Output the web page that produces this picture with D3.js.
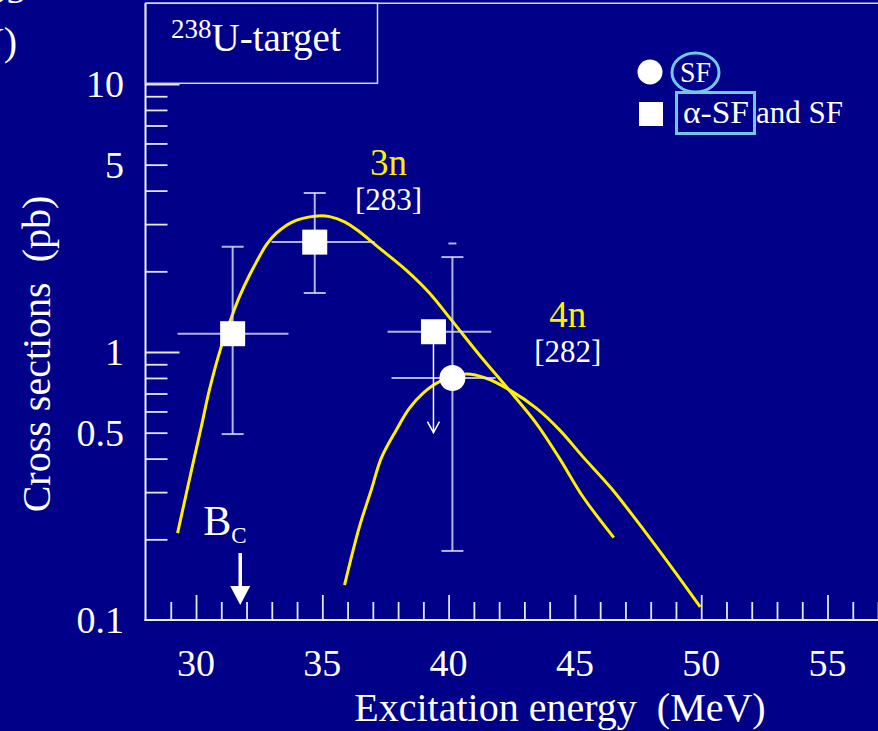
<!DOCTYPE html>
<html>
<head>
<meta charset="utf-8">
<script src="https://cdn.jsdelivr.net/npm/d3@7"></script>
<style>
  html, body { margin: 0; padding: 0; background: #000088; }
  svg { display: block; }
  svg text { font-family: "Liberation Serif", serif; }
</style>
</head>
<body>
<svg id="chart" width="878" height="731" font-family="Liberation Serif, serif"></svg>
<script>
// ---- data -------------------------------------------------------------
// alpha-SF and SF events (squares)
const squareE        = [31.45, 34.70, 39.40];
const squareSigma    = [1.17, 2.57, 1.19];
const squareELow     = [29.27, 32.99, 37.58];
const squareEHigh    = [33.66, 37.07, 41.69];
const squareSigLow   = [0.494, 1.66, null];
const squareSigHigh  = [2.47, 3.92, null];
const squareLimitTo  = [null, null, 0.50];   // upper-limit arrow

// SF event (circle)
const circleE        = [40.15];
const circleSigma    = [0.80];
const circleELow     = [37.74];
const circleEHigh    = [41.86];
const circleSigLow   = [0.181];
const circleSigHigh  = [2.26];
const circleOuterCap = [2.54];

// excitation functions
const curve3nE     = [29.27, 29.91, 30.21, 30.53, 31.00, 31.39, 31.72, 32.12, 32.51, 32.78,
                      33.17, 33.83, 34.69, 35.29, 35.88, 36.47, 37.26, 38.32, 39.24, 40.10,
                      41.22, 42.31, 43.47, 44.39, 45.31, 46.54];
const curve3nSigma = [0.211, 0.395, 0.526, 0.722, 1.047, 1.336, 1.608, 1.937, 2.27, 2.51,
                      2.77, 3.06, 3.21, 3.20, 3.06, 2.81, 2.44, 2.02, 1.66, 1.32,
                      0.975, 0.737, 0.542, 0.401, 0.289, 0.203];
const curve4nE     = [35.88, 36.47, 36.94, 37.33, 37.93, 38.45, 38.98, 39.64, 40.70, 41.49,
                      42.41, 43.47, 44.39, 45.31, 46.44, 47.82, 49.01, 49.96];
const curve4nSigma = [0.135, 0.223, 0.306, 0.401, 0.512, 0.617, 0.701, 0.775, 0.828, 0.798,
                      0.722, 0.617, 0.512, 0.407, 0.310, 0.211, 0.149, 0.112];

// Coulomb barrier
const barrierE = 31.75;

// axes
const xTickLabels = [30, 35, 40, 45, 50, 55];
const yTickLabels = [10, 5, 1, 0.5, 0.1];
const yMinorTicks = [0.2, 0.3, 0.4, 0.5, 0.6, 0.7, 0.8, 0.9, 2, 3, 4, 5, 6, 7, 8, 9];
const yMajorTicks = [1, 10];

// channel labels
const channelNames  = ["3n", "4n"];
const channelMasses = ["[283]", "[282]"];
const channelE      = [37.62, 44.72];
const channelSigma  = [4.58, 1.24];

// ---- layout -----------------------------------------------------------
const FONT = "Liberation Serif, serif";
const svg = d3.select("#chart");
const W = 878, H = 731;
const plotLeft = 145.5, plotBottom = 620, plotTop = 3.3;
const pxPerMeV = 25.26;

const x = d3.scaleLinear().domain([28, 58]).range([plotLeft, plotLeft + 30 * pxPerMeV]);
const y = d3.scaleLog().domain([0.1, 20]).range([plotBottom, plotTop]);

const BG = "#000088", YELLOW = "#fff000", CYAN = "#74c6e8", ERR = "rgba(225,225,245,0.8)";

svg.append("rect").attr("width", W).attr("height", H).attr("fill", BG);

function label(sel) {
  return sel.append("text").attr("font-family", FONT).attr("fill", "white");
}

// ---- axes -------------------------------------------------------------
const g = svg.append("g");

// x axis: minor ticks every MeV, major every 5 MeV
const xAxis = d3.axisBottom(x)
  .tickValues(d3.range(29, 58))
  .tickSizeInner(0).tickSizeOuter(0).tickFormat("");
const xg = g.append("g").attr("transform", `translate(0,${plotBottom})`).call(xAxis);
xg.select(".domain").remove();
xg.selectAll(".tick line")
  .attr("y2", d => d % 5 === 0 ? -25 : -18)
  .attr("stroke", "#e6e6f2").attr("stroke-width", 1.8);

g.append("line").attr("x1", plotLeft - 1).attr("x2", W).attr("y1", plotBottom).attr("y2", plotBottom)
  .attr("stroke", "#f0f0f8").attr("stroke-width", 2);

xTickLabels.forEach(d => label(g)
  .attr("x", x(d)).attr("y", 676)
  .attr("text-anchor", "middle").attr("font-size", 38)
  .text(d));

// y axis
const yAxis = d3.axisLeft(y).tickValues(yMinorTicks.concat(yMajorTicks))
  .tickSizeInner(0).tickSizeOuter(0).tickFormat("");
const yg = g.append("g").attr("transform", `translate(${plotLeft},0)`).call(yAxis);
yg.select(".domain").remove();
yg.selectAll(".tick line")
  .attr("x2", d => yMajorTicks.includes(d) ? 34 : 22)
  .attr("stroke", "#e6e6f2").attr("stroke-width", 1.8);

g.append("line").attr("x1", plotLeft).attr("x2", plotLeft).attr("y1", plotTop).attr("y2", plotBottom + 1)
  .attr("stroke", "#f0f0f8").attr("stroke-width", 2);
// frame top
g.append("line").attr("x1", plotLeft).attr("x2", W).attr("y1", plotTop).attr("y2", plotTop)
  .attr("stroke", "#d8d8ea").attr("stroke-width", 1.5);

yTickLabels.forEach(d => label(g)
  .attr("x", 124).attr("y", y(d))
  .attr("dy", "0.34em")
  .attr("text-anchor", "end").attr("font-size", 38)
  .text(d));

// axis titles
label(svg)
  .attr("x", 560).attr("y", 721)
  .attr("text-anchor", "middle").attr("font-size", 40)
  .attr("xml:space", "preserve")
  .text("Excitation energy  (MeV)");

label(svg)
  .attr("transform", "translate(50,354) rotate(-90)")
  .attr("text-anchor", "middle").attr("font-size", 40)
  .attr("xml:space", "preserve")
  .text("Cross sections  (pb)");

// fragments of neighbouring slide text at the top-left edge
label(svg).attr("x", 17).attr("y", 55).attr("text-anchor", "end")
  .attr("font-size", 40).text("(MeV)");
label(svg).attr("x", 26).attr("y", 3).attr("text-anchor", "end")
  .attr("font-size", 40).text("35");

// target label box
svg.append("rect").attr("x", plotLeft).attr("y", plotTop).attr("width", 232).attr("height", 80)
  .attr("fill", "none").attr("stroke", "#d8d8ea").attr("stroke-width", 1.5);
const tl = label(svg).attr("x", 171).attr("y", 51).attr("font-size", 39);
tl.append("tspan").attr("font-size", 27).attr("dy", -13).text("238");
tl.append("tspan").attr("dy", 13).text("U-target");

// ---- curves -----------------------------------------------------------
const line = d3.line().x(d => x(d[0])).y(d => y(d[1])).curve(d3.curveCatmullRom.alpha(0.5));
svg.append("path").datum(d3.zip(curve3nE, curve3nSigma)).attr("d", line)
  .attr("fill", "none").attr("stroke", YELLOW).attr("stroke-width", 3);
svg.append("path").datum(d3.zip(curve4nE, curve4nSigma)).attr("d", line)
  .attr("fill", "none").attr("stroke", YELLOW).attr("stroke-width", 3);

// ---- error bars and points -------------------------------------------
const eb = svg.append("g").attr("stroke", ERR).attr("stroke-width", 2).attr("fill", "none");
const cap = 11;

function errorBars(E, S, EL, EH, SL, SH) {
  E.forEach((e, i) => {
    eb.append("line").attr("x1", x(EL[i])).attr("x2", x(EH[i]))
      .attr("y1", y(S[i])).attr("y2", y(S[i]));
    if (SL[i] != null) {
      eb.append("line").attr("x1", x(e)).attr("x2", x(e))
        .attr("y1", y(SL[i])).attr("y2", y(SH[i]));
      [SL[i], SH[i]].forEach(v => eb.append("line")
        .attr("x1", x(e) - cap).attr("x2", x(e) + cap)
        .attr("y1", y(v)).attr("y2", y(v)));
    }
  });
}
errorBars(squareE, squareSigma, squareELow, squareEHigh, squareSigLow, squareSigHigh);
errorBars(circleE, circleSigma, circleELow, circleEHigh, circleSigLow, circleSigHigh);

circleOuterCap.forEach((v, i) => eb.append("line")
  .attr("x1", x(circleE[i]) - 4).attr("x2", x(circleE[i]) + 4)
  .attr("y1", y(v)).attr("y2", y(v)));

// upper-limit arrow
squareLimitTo.forEach((v, i) => {
  if (v == null) return;
  const cx = x(squareE[i]), ty = y(v);
  svg.append("line").attr("x1", cx).attr("x2", cx).attr("y1", y(squareSigma[i])).attr("y2", ty)
    .attr("stroke", "white").attr("stroke-width", 1.5);
  svg.append("path").attr("d", `M${cx - 6},${ty - 11} L${cx},${ty} L${cx + 6},${ty - 11}`)
    .attr("fill", "none").attr("stroke", "white").attr("stroke-width", 1.5);
});

const sq = 25;
svg.selectAll("rect.pt").data(d3.zip(squareE, squareSigma)).join("rect")
  .attr("class", "pt")
  .attr("x", d => x(d[0]) - sq / 2).attr("y", d => y(d[1]) - sq / 2)
  .attr("width", sq).attr("height", sq).attr("fill", "white");

svg.selectAll("circle.pt").data(d3.zip(circleE, circleSigma)).join("circle")
  .attr("class", "pt")
  .attr("cx", d => x(d[0])).attr("cy", d => y(d[1])).attr("r", 13).attr("fill", "white");

// ---- channel labels ---------------------------------------------------
channelNames.forEach((n, i) => {
  const cx = x(channelE[i]), cy = y(channelSigma[i]);
  label(svg).attr("x", cx).attr("y", cy).attr("text-anchor", "middle")
    .attr("fill", YELLOW).attr("font-size", 37).text(n);
  label(svg).attr("x", cx).attr("y", cy + 35).attr("text-anchor", "middle")
    .attr("font-size", 31).text(channelMasses[i]);
});

// ---- Coulomb barrier marker ------------------------------------------
const bx = x(barrierE);
const bl = label(svg).attr("x", bx - 37).attr("y", 535).attr("font-size", 42);
bl.append("tspan").text("B");
bl.append("tspan").attr("font-size", 23).attr("dy", 8).text("C");
svg.append("line").attr("x1", bx).attr("x2", bx).attr("y1", 553).attr("y2", 588)
  .attr("stroke", "white").attr("stroke-width", 3.5);
svg.append("path").attr("d", `M${bx - 10},586 L${bx + 10},586 L${bx},605 Z`).attr("fill", "white");

// ---- legend -----------------------------------------------------------
const lg = svg.append("g");
lg.append("circle").attr("cx", 650).attr("cy", 72).attr("r", 12.5).attr("fill", "white");
lg.append("ellipse").attr("cx", 695.5).attr("cy", 72.5).attr("rx", 23.5).attr("ry", 19.5)
  .attr("fill", "none").attr("stroke", CYAN).attr("stroke-width", 3);
label(lg).attr("x", 680).attr("y", 82).attr("font-size", 30)
  .attr("textLength", 31).attr("lengthAdjust", "spacingAndGlyphs").text("SF");

lg.append("rect").attr("x", 639).attr("y", 102).attr("width", 24).attr("height", 24).attr("fill", "white");
lg.append("rect").attr("x", 676.5).attr("y", 92.5).attr("width", 78).attr("height", 41)
  .attr("fill", "none").attr("stroke", CYAN).attr("stroke-width", 3);
label(lg).attr("x", 683).attr("y", 123).attr("font-size", 31)
  .attr("textLength", 66).attr("lengthAdjust", "spacingAndGlyphs").text("α-SF");
label(lg).attr("x", 756).attr("y", 123).attr("font-size", 31).text("and SF");
</script>
</body>
</html>
